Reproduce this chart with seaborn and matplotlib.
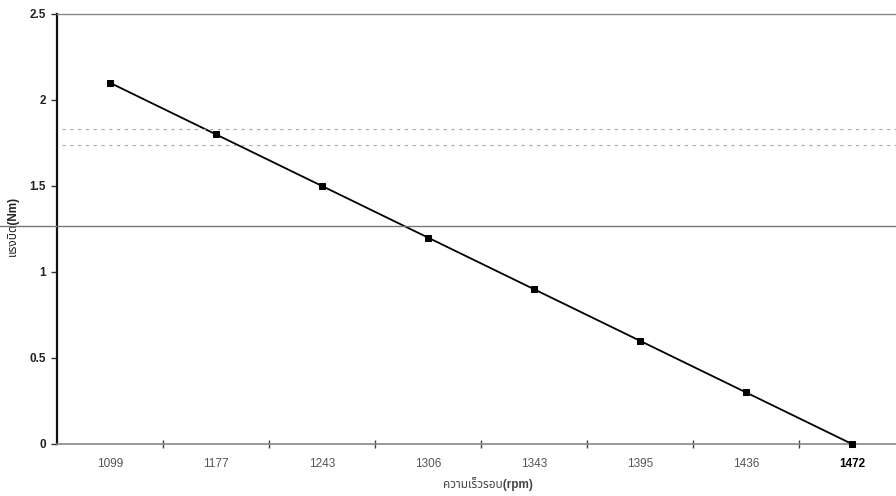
import matplotlib
matplotlib.use("Agg")
import matplotlib.pyplot as plt
from matplotlib.lines import Line2D
import seaborn as sns
import pandas as pd

speed_rpm = ["1099", "1177", "1243", "1306", "1343", "1395", "1436", "1472"]
torque_nm = [2.1, 1.8, 1.5, 1.2, 0.9, 0.6, 0.3, 0.0]
y_ticks = [0, 0.5, 1, 1.5, 2, 2.5]
y_tick_labels = ["0", "0.5", "1", "1.5", "2", "2.5"]
x_label = "ความเร็วรอบ(rpm)"
y_label = "แรงบิด(Nm)"

sns.set_theme(style="white")
plt.rcParams['font.family'] = ['Liberation Sans', 'Noto Sans Thai', 'DejaVu Sans']

df = pd.DataFrame({"speed": speed_rpm, "torque": torque_nm})

fig = plt.figure(figsize=(8.96, 4.96), dpi=100)
# axes: left 57px, right ~905px, top 14px, bottom 444px
ax = fig.add_axes([57 / 896, 1 - 444 / 496, (905 - 57) / 896, (444 - 14) / 496])

sns.lineplot(data=df, x="speed", y="torque", ax=ax, color="black", linewidth=1.3,
             marker="s", markersize=5, markerfacecolor="black", markeredgecolor="black",
             sort=False)
for ln in ax.get_lines():
    ln.set_clip_on(False)
    ln.set_zorder(5)

n = len(speed_rpm)
ax.set_xlim(-0.5, n - 0.5)
ax.set_ylim(0, 2.5)
ax.set_xticks(range(n))
ax.set_xticklabels(speed_rpm, fontsize=8.5, color="#555555")
ax.get_xticklabels()[-1].set_color("black")
ax.get_xticklabels()[-1].set_fontweight("bold")
ax.set_xticks([i + 0.5 for i in range(n - 1)], minor=True)
ax.tick_params(axis="x", which="major", length=0, pad=10)
ax.tick_params(axis="x", which="minor", length=6, width=1, color="#444444",
               direction="inout", bottom=True)
ax.set_yticks(y_ticks)
ax.set_yticklabels(y_tick_labels, fontsize=8.5, fontweight="bold", color="#222222")
ax.tick_params(axis="y", length=4, width=1, color="#333333", direction="out", left=True, pad=4)

ax.spines["left"].set_color("#111111")
ax.spines["left"].set_linewidth(1.6)
ax.spines["bottom"].set_color("#888888")
ax.spines["bottom"].set_linewidth(1.2)
ax.spines["top"].set_color("#888888")
ax.spines["top"].set_linewidth(1.0)
ax.spines["right"].set_visible(False)

ax.set_xlabel(x_label, fontsize=8.5, fontweight="bold", color="#444444")
ax.xaxis.set_label_coords((488 - 57) / (905 - 57), -(477 - 444) / (444 - 14))
ax.set_ylabel(y_label, fontsize=8.5, fontweight="bold", color="#222222")
ax.yaxis.set_label_coords(-(57 - 19) / (905 - 57), (444 - 226) / (444 - 14))

# scanning artefacts: long horizontal line and faint dotted lines across the page
fig.add_artist(Line2D([0, 1], [1 - 226 / 496, 1 - 226 / 496], color="#777777", linewidth=1.0))
for yp in (129, 145):
    fig.add_artist(Line2D([62 / 896, 1], [1 - yp / 496, 1 - yp / 496], color="#aaaaaa",
                          linewidth=0.8, linestyle=(0, (3, 4))))

fig.savefig("out.png", dpi=100)
